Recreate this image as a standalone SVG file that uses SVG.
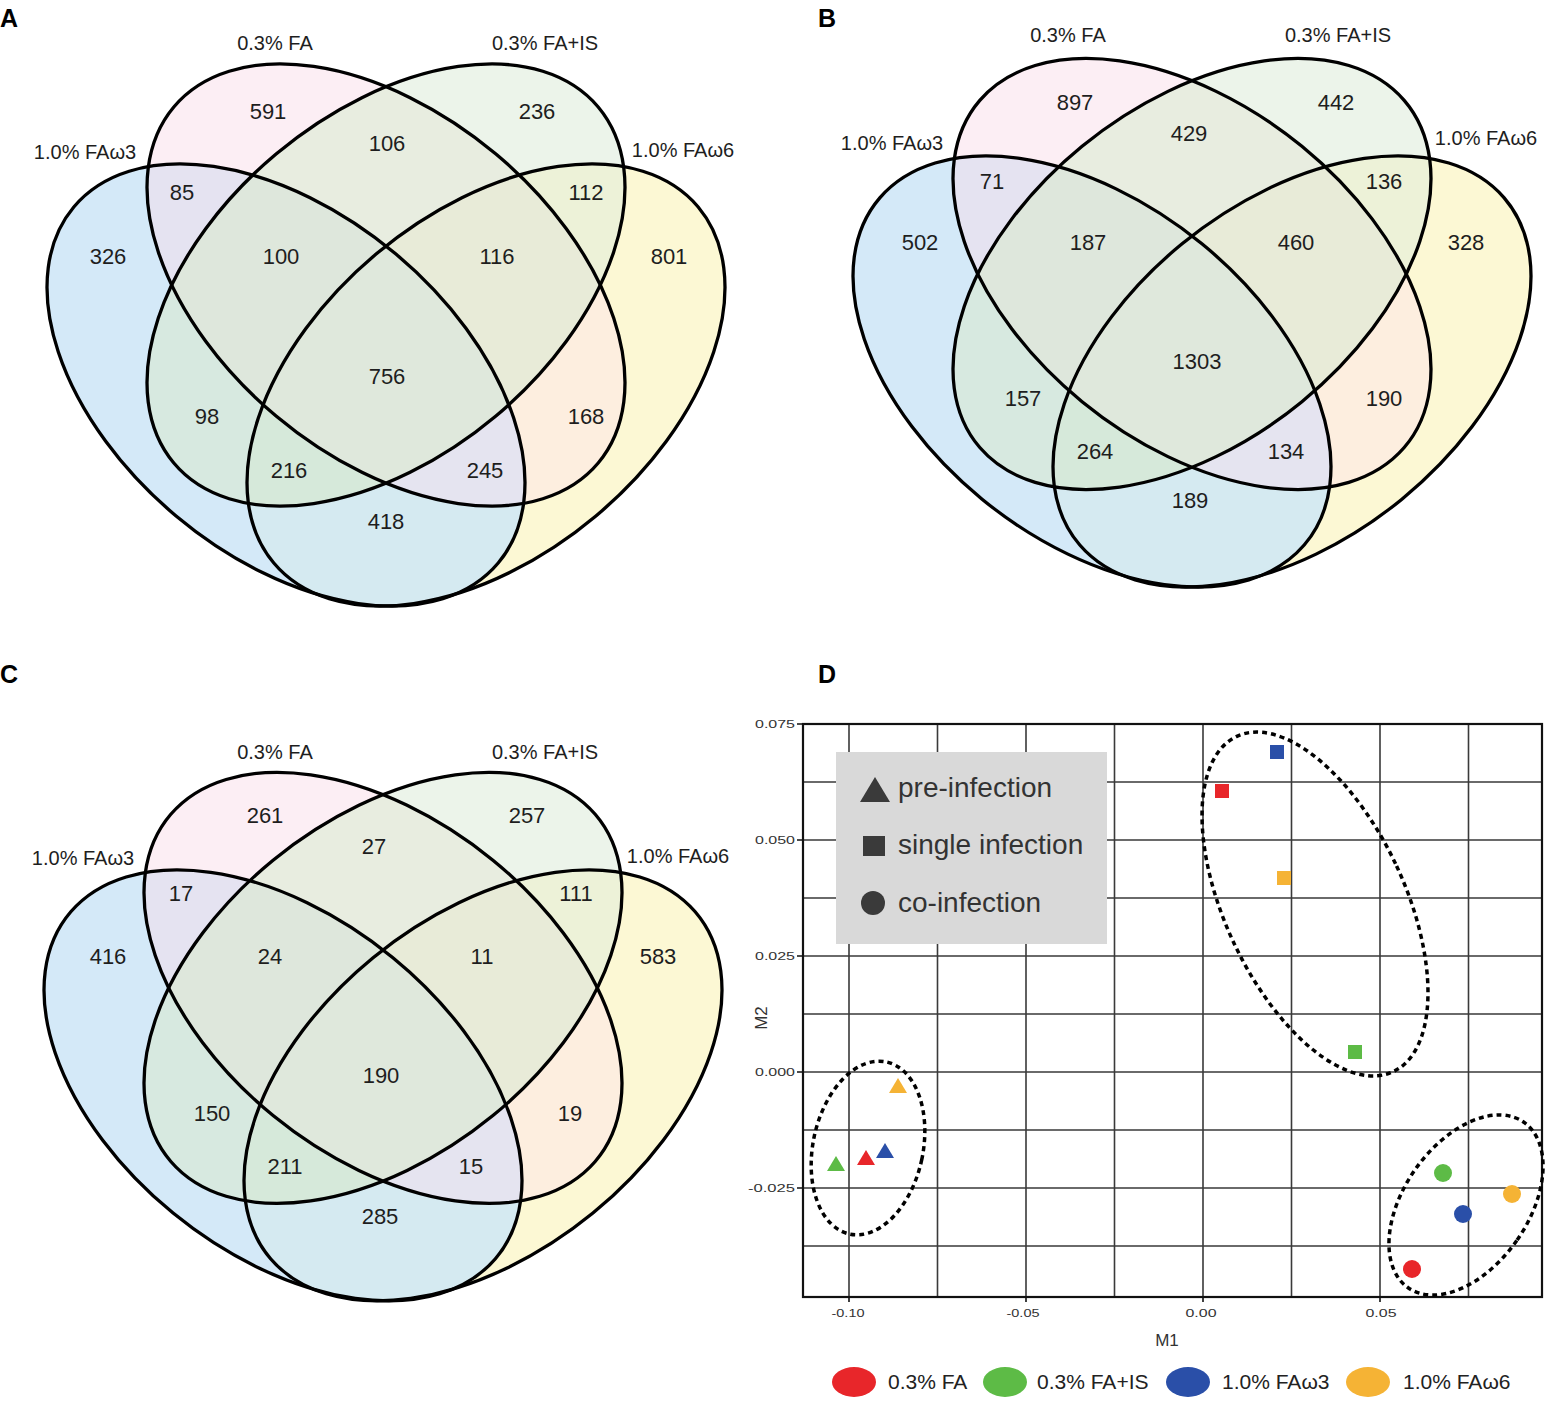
<svg xmlns="http://www.w3.org/2000/svg" xmlns:xlink="http://www.w3.org/1999/xlink" width="1558" height="1409" viewBox="0 0 1558 1409">
<style>
.pl{font-family:"Liberation Sans",Arial,sans-serif;font-weight:bold;font-size:25px;fill:#000}
.sl{font-family:"Liberation Sans",Arial,sans-serif;font-size:20px;fill:#1e1e1e;text-anchor:middle}
.n{font-family:"Liberation Sans",Arial,sans-serif;font-size:22px;fill:#1e1e1e;text-anchor:middle}
.tk{font-family:"Liberation Sans",Arial,sans-serif;font-size:11px;fill:#333}
.lg{font-family:"Liberation Sans",Arial,sans-serif;font-size:28px;fill:#333}
.bl{font-family:"Liberation Sans",Arial,sans-serif;font-size:21px;fill:#222}
.ax{font-family:"Liberation Sans",Arial,sans-serif;font-size:17px;fill:#333;text-anchor:middle}
.grid{stroke:#3a3a3a;stroke-width:1.6;fill:none}
.dash{fill:none;stroke:#000;stroke-width:3.5;stroke-dasharray:5 4}
</style>
<defs>
<ellipse id="eA" cx="286" cy="385" rx="277" ry="171" transform="rotate(40 286 385)"/>
<ellipse id="eB" cx="386" cy="285" rx="277" ry="171" transform="rotate(40 386 285)"/>
<ellipse id="eC" cx="386" cy="285" rx="277" ry="171" transform="rotate(-40 386 285)"/>
<ellipse id="eD" cx="486" cy="385" rx="277" ry="171" transform="rotate(-40 486 385)"/>
<clipPath id="cA"><use xlink:href="#eA"/></clipPath>
<clipPath id="cB"><use xlink:href="#eB"/></clipPath>
<clipPath id="cC"><use xlink:href="#eC"/></clipPath>
<clipPath id="cD"><use xlink:href="#eD"/></clipPath>
<g id="venn">
<use xlink:href="#eA" fill="#d4e9f8"/>
<use xlink:href="#eB" fill="#fceef4"/>
<use xlink:href="#eC" fill="#ecf4ea"/>
<use xlink:href="#eD" fill="#fcf8d4"/>
<g clip-path="url(#cA)"><use xlink:href="#eB" fill="#e5e3f1"/></g>
<g clip-path="url(#cA)"><use xlink:href="#eC" fill="#d7e9e0"/></g>
<g clip-path="url(#cA)"><use xlink:href="#eD" fill="#d5eaf1"/></g>
<g clip-path="url(#cB)"><use xlink:href="#eC" fill="#e8ede0"/></g>
<g clip-path="url(#cB)"><use xlink:href="#eD" fill="#fdeedf"/></g>
<g clip-path="url(#cC)"><use xlink:href="#eD" fill="#edf2d8"/></g>
<g clip-path="url(#cA)"><g clip-path="url(#cB)"><use xlink:href="#eC" fill="#dee7dc"/></g></g>
<g clip-path="url(#cA)"><g clip-path="url(#cB)"><use xlink:href="#eD" fill="#e5e4f0"/></g></g>
<g clip-path="url(#cA)"><g clip-path="url(#cC)"><use xlink:href="#eD" fill="#d6e9da"/></g></g>
<g clip-path="url(#cB)"><g clip-path="url(#cC)"><use xlink:href="#eD" fill="#e8ebd8"/></g></g>
<g clip-path="url(#cA)"><g clip-path="url(#cB)"><g clip-path="url(#cC)"><use xlink:href="#eD" fill="#dfe8dc"/></g></g></g>
<g fill="none" stroke="#000" stroke-width="3.3">
<use xlink:href="#eA"/><use xlink:href="#eB"/><use xlink:href="#eC"/><use xlink:href="#eD"/>
</g>
</g>
</defs>

<g id="panelA">
<use xlink:href="#venn"/>
<text class="pl" x="0" y="27">A</text>
<text class="sl" x="275" y="50">0.3% FA</text>
<text class="sl" x="545" y="50">0.3% FA+IS</text>
<text class="sl" x="85" y="159">1.0% FAω3</text>
<text class="sl" x="683" y="157">1.0% FAω6</text>
<g class="n">
<text x="268" y="119">591</text><text x="537" y="119">236</text><text x="387" y="151">106</text>
<text x="182" y="200">85</text><text x="586" y="200">112</text>
<text x="108" y="264">326</text><text x="281" y="264">100</text><text x="497" y="264">116</text><text x="669" y="264">801</text>
<text x="387" y="384">756</text><text x="207" y="424">98</text><text x="586" y="424">168</text>
<text x="289" y="478">216</text><text x="485" y="478">245</text><text x="386" y="529">418</text>
</g>
</g>

<g id="panelB">
<use xlink:href="#venn" transform="matrix(1,0,0,0.975,806,-3.9)"/>
<text class="pl" x="818" y="27">B</text>
<text class="sl" x="1068" y="42">0.3% FA</text>
<text class="sl" x="1338" y="42">0.3% FA+IS</text>
<text class="sl" x="892" y="150">1.0% FAω3</text>
<text class="sl" x="1486" y="145">1.0% FAω6</text>
<g class="n">
<text x="1075" y="110">897</text><text x="1336" y="110">442</text><text x="1189" y="141">429</text>
<text x="992" y="189">71</text><text x="1384" y="189">136</text>
<text x="920" y="250">502</text><text x="1088" y="250">187</text><text x="1296" y="250">460</text><text x="1466" y="250">328</text>
<text x="1197" y="369">1303</text><text x="1023" y="406">157</text><text x="1384" y="406">190</text>
<text x="1095" y="459">264</text><text x="1286" y="459">134</text><text x="1190" y="508">189</text>
</g>
</g>

<g id="panelC">
<use xlink:href="#venn" transform="matrix(1,0,0,0.975,-3,710)"/>
<text class="pl" x="0" y="683">C</text>
<text class="sl" x="275" y="759">0.3% FA</text>
<text class="sl" x="545" y="759">0.3% FA+IS</text>
<text class="sl" x="83" y="865">1.0% FAω3</text>
<text class="sl" x="678" y="863">1.0% FAω6</text>
<g class="n">
<text x="265" y="823">261</text><text x="527" y="823">257</text><text x="374" y="854">27</text>
<text x="181" y="901">17</text><text x="576" y="901">111</text>
<text x="108" y="964">416</text><text x="270" y="964">24</text><text x="482" y="964">11</text><text x="658" y="964">583</text>
<text x="381" y="1083">190</text><text x="212" y="1121">150</text><text x="570" y="1121">19</text>
<text x="285" y="1174">211</text><text x="471" y="1174">15</text><text x="380" y="1224">285</text>
</g>
</g>

<g id="panelD">
<text class="pl" x="818" y="683">D</text>
<g id="grid" class="grid">
<path d="M937.5 724V1297M1026 724V1297M1114.5 724V1297M1203 724V1297M1291.5 724V1297M1380 724V1297M1468.5 724V1297M849 724V1297"/>
<path d="M803 782H1542M803 840H1542M803 898H1542M803 956H1542M803 1014H1542M803 1072H1542M803 1130H1542M803 1188H1542M803 1246H1542"/>
<path d="M797 724H803M797 840H803M797 956H803M797 1072H803M797 1188H803M849 1297V1302M1026 1297V1302M1203 1297V1302M1380 1297V1302" stroke="#111"/>
</g>
<rect x="803" y="724" width="739" height="573" fill="none" stroke="#111" stroke-width="2.2"/>
<g class="tk">
<text x="795" y="728" text-anchor="end" textLength="40" lengthAdjust="spacingAndGlyphs">0.075</text>
<text x="795" y="844" text-anchor="end" textLength="40" lengthAdjust="spacingAndGlyphs">0.050</text>
<text x="795" y="960" text-anchor="end" textLength="40" lengthAdjust="spacingAndGlyphs">0.025</text>
<text x="795" y="1076" text-anchor="end" textLength="40" lengthAdjust="spacingAndGlyphs">0.000</text>
<text x="795" y="1192" text-anchor="end" textLength="47" lengthAdjust="spacingAndGlyphs">-0.025</text>
<text x="848" y="1317" text-anchor="middle" textLength="33" lengthAdjust="spacingAndGlyphs">-0.10</text>
<text x="1023" y="1317" text-anchor="middle" textLength="33" lengthAdjust="spacingAndGlyphs">-0.05</text>
<text x="1201" y="1317" text-anchor="middle" textLength="31" lengthAdjust="spacingAndGlyphs">0.00</text>
<text x="1381" y="1317" text-anchor="middle" textLength="31" lengthAdjust="spacingAndGlyphs">0.05</text>
</g>
<text class="ax" x="1167" y="1346">M1</text>
<text class="ax" x="0" y="0" transform="translate(767 1018) rotate(-90)">M2</text>
<g id="legend-shape">
<rect x="836" y="752" width="271" height="192" fill="#d9d9d9"/>
<polygon points="860,802 890,802 875,777" fill="#3a3a3a"/>
<rect x="863" y="836" width="22" height="20" fill="#3a3a3a"/>
<circle cx="873" cy="903" r="12" fill="#3a3a3a"/>
<text class="lg" x="898" y="797">pre-infection</text>
<text class="lg" x="898" y="854">single infection</text>
<text class="lg" x="898" y="912">co-infection</text>
</g>
<g id="clusters">
<ellipse class="dash" cx="868" cy="1148" rx="55" ry="88" transform="rotate(12 868 1148)"/>
<ellipse class="dash" cx="1315" cy="904" rx="90" ry="185" transform="rotate(-25 1315 904)"/>
<ellipse class="dash" cx="1466" cy="1205" rx="62" ry="101" transform="rotate(35 1466 1205)"/>
</g>
<g id="points">
<polygon points="889,1093 907,1093 898,1078" fill="#f5b335"/>
<polygon points="827,1171 845,1171 836,1156" fill="#5dbb46"/>
<polygon points="857,1165 875,1165 866,1150" fill="#e8262a"/>
<polygon points="876,1158 894,1158 885,1143" fill="#2a4fa8"/>
<rect x="1270" y="745" width="14" height="14" fill="#2a4fa8"/>
<rect x="1215" y="784" width="14" height="14" fill="#e8262a"/>
<rect x="1277" y="871" width="14" height="14" fill="#f5b335"/>
<rect x="1348" y="1045" width="14" height="14" fill="#5dbb46"/>
<circle cx="1443" cy="1173" r="9" fill="#5dbb46"/>
<circle cx="1512" cy="1194" r="9" fill="#f5b335"/>
<circle cx="1463" cy="1214" r="9" fill="#2a4fa8"/>
<circle cx="1412" cy="1269" r="9" fill="#e8262a"/>
</g>
<g id="color-legend">
<ellipse cx="854" cy="1382" rx="22" ry="15" fill="#e8262a"/>
<text class="bl" x="888" y="1389">0.3% FA</text>
<ellipse cx="1005" cy="1382" rx="22" ry="15" fill="#5dbb46"/>
<text class="bl" x="1037" y="1389">0.3% FA+IS</text>
<ellipse cx="1188" cy="1382" rx="22" ry="15" fill="#2a4fa8"/>
<text class="bl" x="1222" y="1389">1.0% FAω3</text>
<ellipse cx="1368" cy="1382" rx="22" ry="15" fill="#f5b335"/>
<text class="bl" x="1403" y="1389">1.0% FAω6</text>
</g>
</g>
</svg>
